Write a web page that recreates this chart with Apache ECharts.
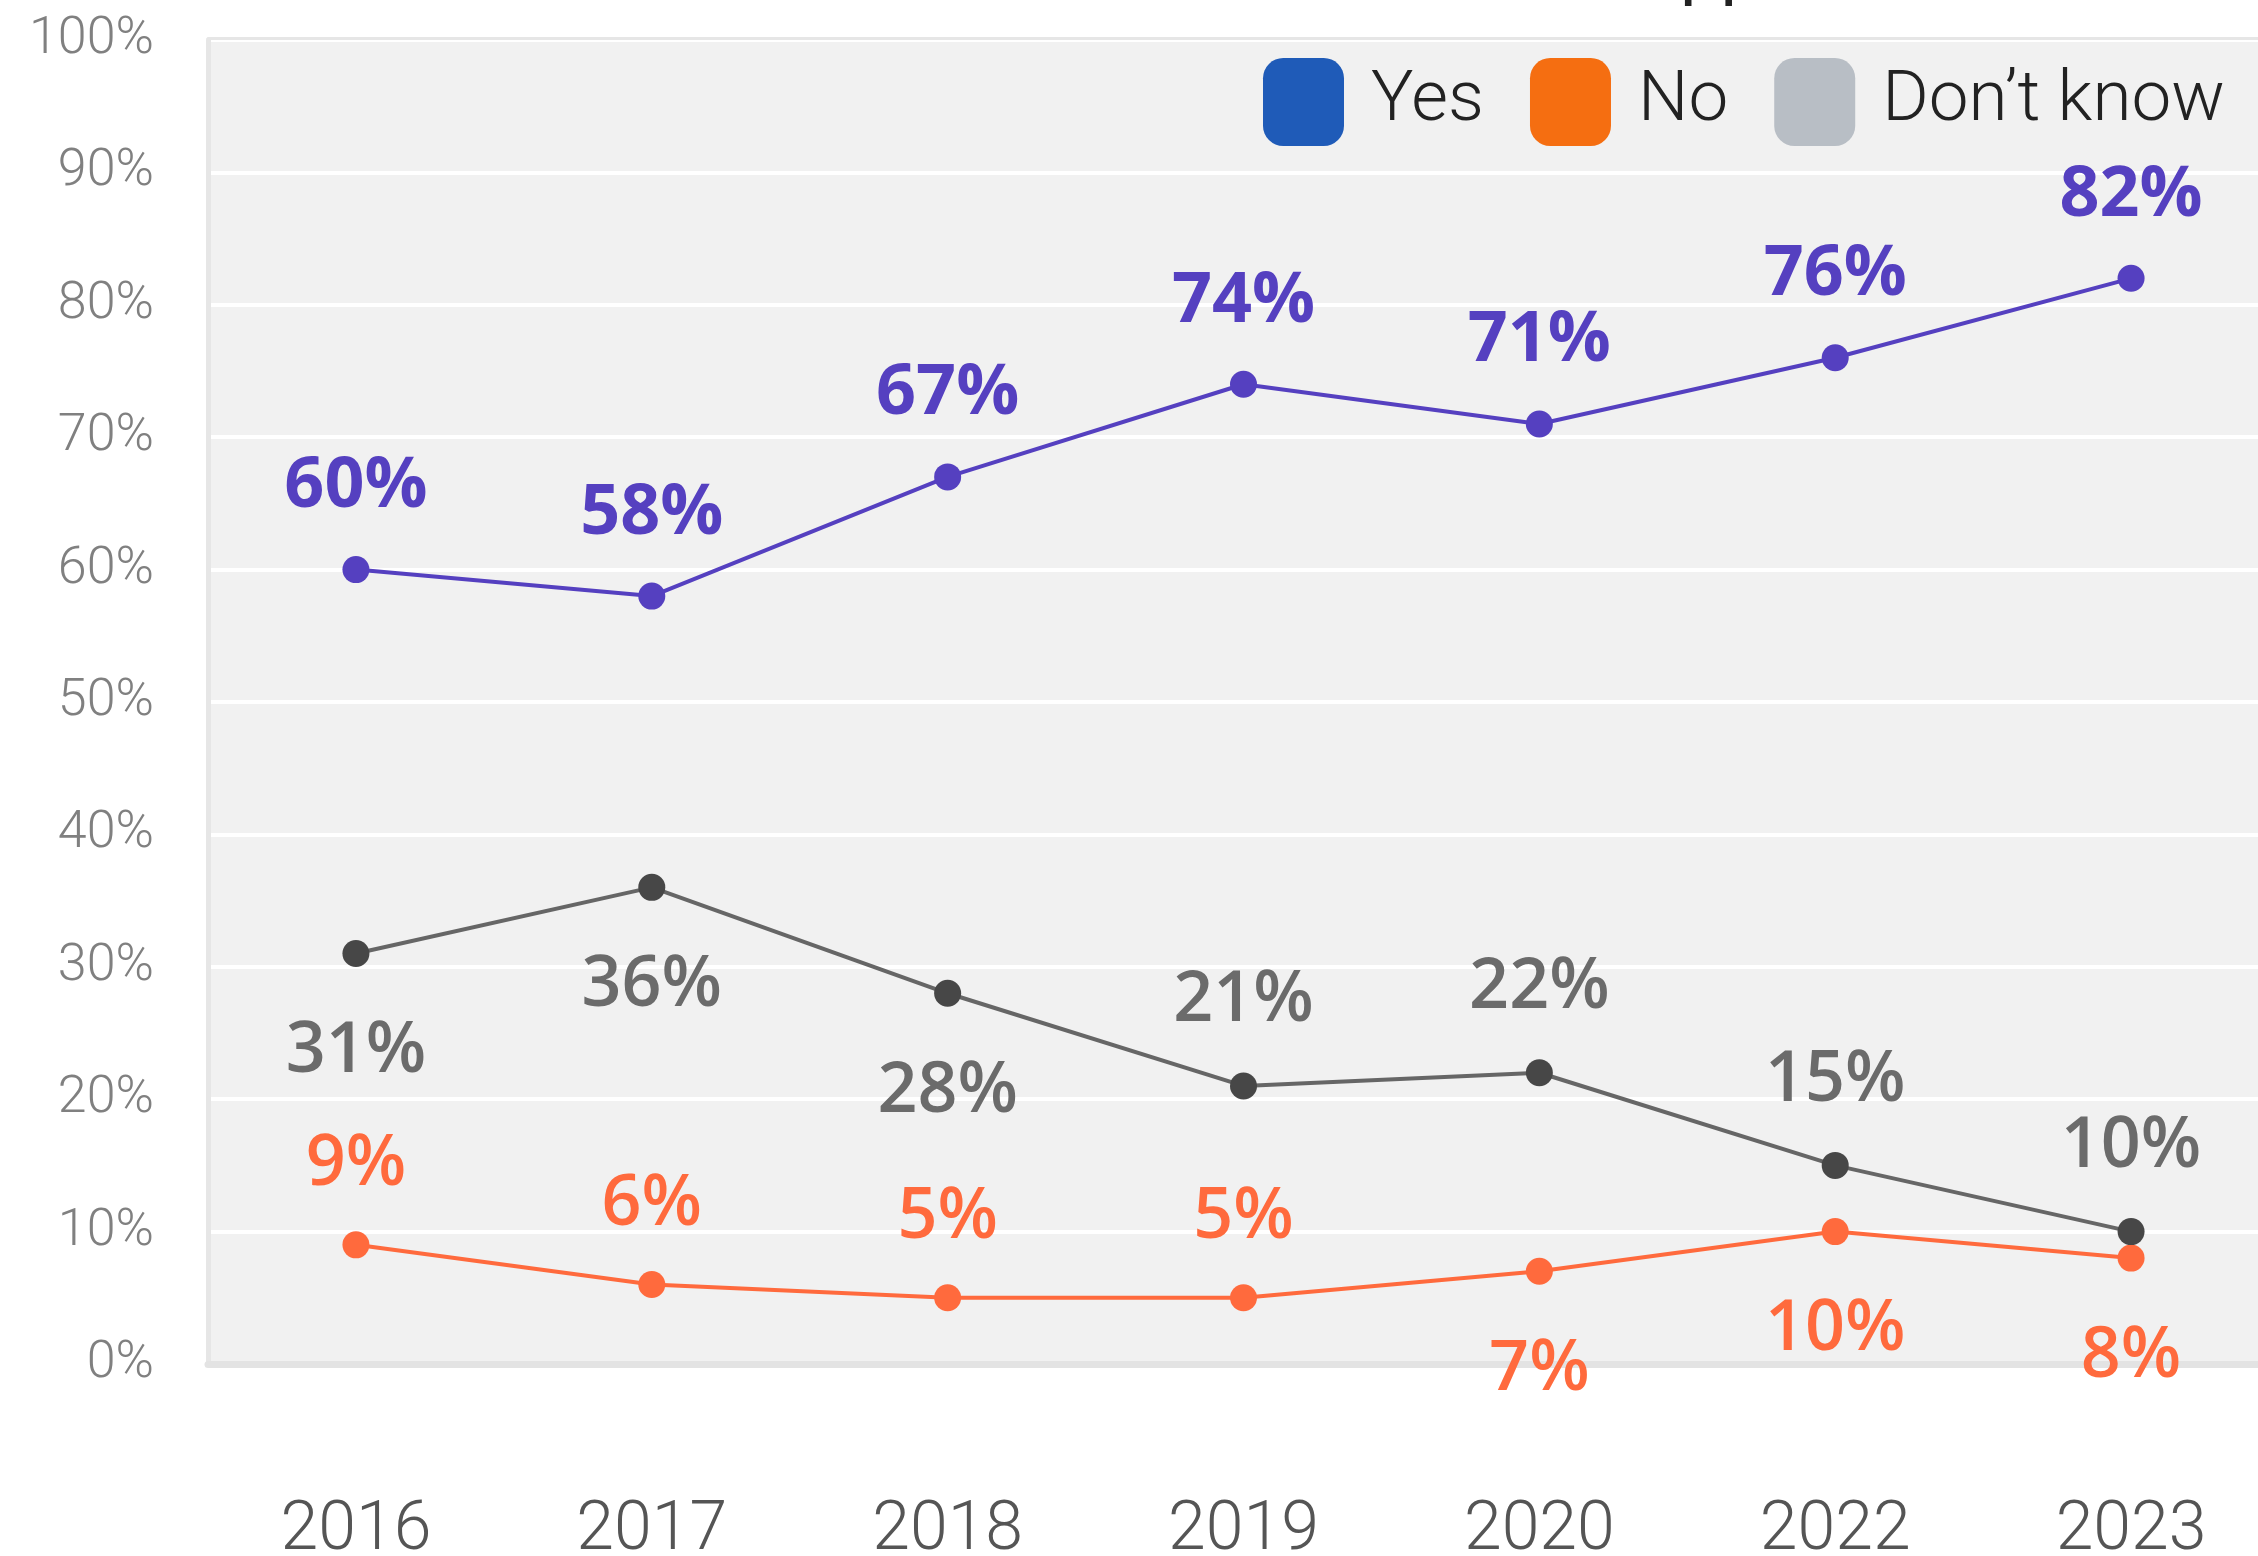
<!DOCTYPE html>
<html>
<head>
<meta charset="utf-8">
<script src="https://cdn.jsdelivr.net/npm/echarts@6/dist/echarts.min.js"></script>
<style>
  html, body { margin: 0; padding: 0; background: #fff; }
  #chart { width: 2258px; height: 1556px; }
</style>
</head>
<body>
<div id="chart"></div>
<script>
// years on the x axis
const years = ['2016', '2017', '2018', '2019', '2020', '2022', '2023']
// survey answers, percent
const yesValues = [60, 58, 67, 74, 71, 76, 82]
const noValues = [9, 6, 5, 5, 7, 10, 8]
const dontKnowValues = [31, 36, 28, 21, 22, 15, 10]
// which side of the point each label sits on
const noSides = ['top', 'top', 'top', 'top', 'bottom', 'bottom', 'bottom']
const dontKnowSides = ['bottom', 'bottom', 'bottom', 'top', 'top', 'top', 'top']

const labelFont = '"Open Sans", "Noto Sans", sans-serif'
const axisFont = 'Roboto, "Noto Sans", sans-serif'

function withSides(values, sides, dist) {
  return values.map((v, i) => ({
    value: v,
    label: { position: sides[i], distance: sides[i] === 'top' ? dist.top : dist.bottom }
  }))
}

function lineSeries(name, data, color, pointColor, labelColor, weight) {
  return {
    name: name,
    type: 'line',
    data: data,
    symbol: 'circle',
    symbolSize: 27,
    lineStyle: { color: color, width: 4 },
    itemStyle: { color: pointColor },
    label: {
      show: true,
      position: 'top',
      distance: 34,
      formatter: '{c}%',
      color: labelColor,
      fontFamily: labelFont,
      fontWeight: weight,
      fontSize: 70
    },
    z: 5
  }
}

const chart = echarts.init(document.getElementById('chart'))
chart.setOption({
  animation: false,
  backgroundColor: '#ffffff',
  graphic: [
    {
      type: 'text',
      left: 1680,
      top: -63,
      style: { text: 'pp', fontSize: 72, fontFamily: axisFont, fontWeight: 400, fill: '#222' }
    }
  ],
  legend: {
    left: 1263,
    top: 58,
    padding: 0,
    itemWidth: 81,
    itemHeight: 88,
    itemGap: 46,
    icon: 'roundRect',
    textStyle: { fontFamily: axisFont, fontWeight: 300, fontSize: 71, color: '#222', padding: [10, 0, 0, 22] },
    data: [
      { name: 'Yes', itemStyle: { color: '#1f5bb8' } },
      { name: 'No', itemStyle: { color: '#f56e11' } },
      { name: 'Don’t know', itemStyle: { color: '#b8bec5' } }
    ]
  },
  grid: {
    left: 208,
    top: 40,
    width: 2071,
    bottom: 192,
    outerBoundsMode: 'none',
    show: true,
    backgroundColor: '#f1f1f1',
    borderWidth: 0
  },
  xAxis: [
    {
      type: 'category',
      data: years,
      axisLine: { show: true, lineStyle: { color: '#e3e3e3', width: 7 } },
      axisTick: { show: false },
      axisLabel: {
        margin: 134,
        fontFamily: axisFont,
        fontWeight: 300,
        fontSize: 68,
        color: '#555'
      }
    },
    {
      type: 'category',
      data: years,
      position: 'top',
      offset: 2,
      axisLine: { show: true, lineStyle: { color: '#e6e6e6', width: 3 } },
      axisTick: { show: false },
      axisLabel: { show: false }
    }
  ],
  yAxis: {
    type: 'value',
    min: 0,
    max: 100,
    interval: 10,
    axisLine: { show: true, lineStyle: { color: '#e6e6e6', width: 5 } },
    axisTick: { show: false },
    splitLine: { lineStyle: { color: '#ffffff', width: 4 } },
    axisLabel: {
      formatter: '{value}%',
      margin: 54,
      fontFamily: axisFont,
      fontWeight: 300,
      fontSize: 52,
      color: '#808080'
    }
  },
  series: [
    lineSeries('Yes', yesValues, '#5540c0', '#5540c0', '#5540c0', 700),
    lineSeries('No', withSides(noValues, noSides, { top: 31, bottom: 50 }), '#ff6a3d', '#ff6a3d', '#ff6a3d', 600),
    lineSeries('Don’t know', withSides(dontKnowValues, dontKnowSides, { top: 36, bottom: 50 }), '#666666', '#474747', '#6b6b6b', 600)
  ]
})
</script>
</body>
</html>
